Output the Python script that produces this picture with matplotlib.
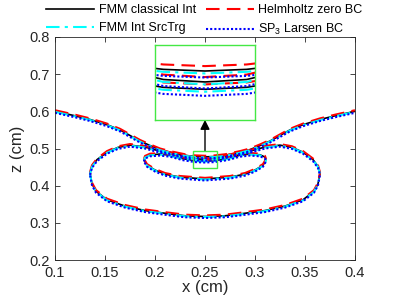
# plot.py
# Contour comparison of four solvers, with a zoomed inset around the centre.

import matplotlib
matplotlib.use("Agg")
import matplotlib.pyplot as plt
from matplotlib.patches import Rectangle

plt.rcParams['font.family'] = ['Liberation Sans', 'DejaVu Sans']

# --- data (black = FMM classical Int) ---
wing_x = [0.100, 0.110, 0.120, 0.135, 0.152, 0.165, 0.175, 0.185, 0.195, 0.205,
          0.215, 0.230, 0.240, 0.250, 0.260, 0.270, 0.285, 0.295, 0.305, 0.315,
          0.325, 0.335, 0.348, 0.365, 0.380, 0.390, 0.400]
wing_z = [0.600, 0.594, 0.588, 0.578, 0.564, 0.550, 0.535, 0.520, 0.508, 0.497,
          0.490, 0.4815, 0.4785, 0.4775, 0.4785, 0.4815, 0.490, 0.497, 0.508, 0.520,
          0.535, 0.550, 0.564, 0.578, 0.588, 0.594, 0.600]

bigloop_x = [0.135, 0.137, 0.142, 0.152, 0.163, 0.175, 0.190, 0.202, 0.215, 0.228,
             0.240, 0.250, 0.260, 0.272, 0.285, 0.298, 0.310, 0.325, 0.337, 0.348,
             0.358, 0.363, 0.365, 0.363, 0.359, 0.348, 0.330, 0.310, 0.288, 0.270,
             0.250, 0.230, 0.212, 0.190, 0.170, 0.152, 0.141, 0.137, 0.135]
bigloop_z = [0.433, 0.452, 0.470, 0.490, 0.503, 0.509, 0.504, 0.495, 0.487, 0.4795,
             0.4723, 0.4708, 0.4723, 0.4795, 0.487, 0.495, 0.504, 0.509, 0.503, 0.490,
             0.470, 0.452, 0.433, 0.405, 0.385, 0.362, 0.345, 0.333, 0.325, 0.319,
             0.317, 0.319, 0.325, 0.333, 0.345, 0.362, 0.385, 0.405, 0.433]

smallloop_x = [0.189, 0.190, 0.195, 0.205, 0.215, 0.228, 0.240, 0.250, 0.260, 0.272,
               0.285, 0.295, 0.305, 0.310, 0.311, 0.308, 0.300, 0.290, 0.275, 0.250,
               0.225, 0.210, 0.200, 0.192, 0.189]
smallloop_z = [0.469, 0.477, 0.483, 0.485, 0.482, 0.4725, 0.4675, 0.4663, 0.4675, 0.4725,
               0.482, 0.485, 0.483, 0.477, 0.469, 0.455, 0.442, 0.431, 0.423, 0.418,
               0.423, 0.431, 0.442, 0.455, 0.469]

# vertical shift of each method relative to the black curves
series_labels = ["FMM classical Int", "Helmholtz zero BC", "FMM Int SrcTrg",
                 r"SP$_{\mathregular{3}}$ Larsen BC"]
series_dz = [0.0, 0.003, -0.0015, -0.004]

xticks = [0.1, 0.15, 0.2, 0.25, 0.3, 0.35, 0.4]
xticklabels = ["0.1", "0.15", "0.2", "0.25", "0.3", "0.35", "0.4"]
yticks = [0.2, 0.3, 0.4, 0.5, 0.6, 0.7, 0.8]
yticklabels = ["0.2", "0.3", "0.4", "0.5", "0.6", "0.7", "0.8"]

# zoom window (small box) and where the inset sits on the main axes
zoom_x = [0.238, 0.262]
zoom_z = [0.4476, 0.4933]
inset_box = [0.2, 0.577, 0.1, 0.201]

styles = [
    dict(color='k', lw=1.2, linestyle='-'),
    dict(color='r', lw=1.5, linestyle=(0, (6.5, 3.5))),
    dict(color='#00ffff', lw=1.5, linestyle=(0, (6.5, 2.5, 1.5, 2.5))),
    dict(color='#0000ff', lw=1.5, linestyle=(0, (1, 1))),
]
axis_col = '#262626'
box_col = '#44e844'

curves = [(wing_x, wing_z), (bigloop_x, bigloop_z), (smallloop_x, smallloop_z)]


def draw_curves(axis):
    handles = []
    for dz, st in zip(series_dz, styles):
        h = None
        for cx, cz in curves:
            h, = axis.plot(cx, [z + dz for z in cz], **st)
        handles.append(h)
    return handles


fig = plt.figure(figsize=(3.99, 2.99), dpi=100)
ax = fig.add_axes([55 / 399, 1 - 260 / 299, 300 / 399, 223 / 299])

handles = draw_curves(ax)

ax.set_xlim(0.1, 0.4)
ax.set_ylim(0.2, 0.8)
ax.set_xticks(xticks)
ax.set_xticklabels(xticklabels)
ax.set_yticks(yticks)
ax.set_yticklabels(yticklabels)
ax.tick_params(direction='in', length=3.5, width=0.6, top=True, right=True,
               labelsize=10.5, colors=axis_col, pad=4)
for s in ax.spines.values():
    s.set_color(axis_col)
    s.set_linewidth(0.6)
ax.set_xlabel("x (cm)", fontsize=12, color=axis_col, labelpad=0)
ax.set_ylabel("z (cm)", fontsize=12, color=axis_col, labelpad=3)

# small box + arrow + inset
ax.add_patch(Rectangle((zoom_x[0], zoom_z[0]), zoom_x[1] - zoom_x[0],
                       zoom_z[1] - zoom_z[0], fill=False, edgecolor=box_col,
                       lw=1.0, zorder=5))
ax.annotate('', xy=(0.25, inset_box[1]), xytext=(0.25, zoom_z[1]),
            arrowprops=dict(arrowstyle='-|>', color='k', lw=1.0,
                            mutation_scale=14, shrinkA=0, shrinkB=0))

axins = ax.inset_axes(inset_box, transform=ax.transData)
draw_curves(axins)
axins.set_xlim(zoom_x)
axins.set_ylim(zoom_z)
axins.set_xticks([])
axins.set_yticks([])
for s in axins.spines.values():
    s.set_color(box_col)
    s.set_linewidth(1.0)

# legend: two columns above the axes, row-wise order like the reference
order = [0, 2, 1, 3]
fig.legend([handles[i] for i in order], [series_labels[i] for i in order],
           ncol=2, loc='upper left', bbox_to_anchor=(45 / 399, 1 - 3 / 299),
           frameon=False, fontsize=9, handlelength=3.8, handletextpad=0.4,
           columnspacing=0.8, labelspacing=0.45, borderpad=0.1, borderaxespad=0)

fig.savefig("out.png", dpi=100)
